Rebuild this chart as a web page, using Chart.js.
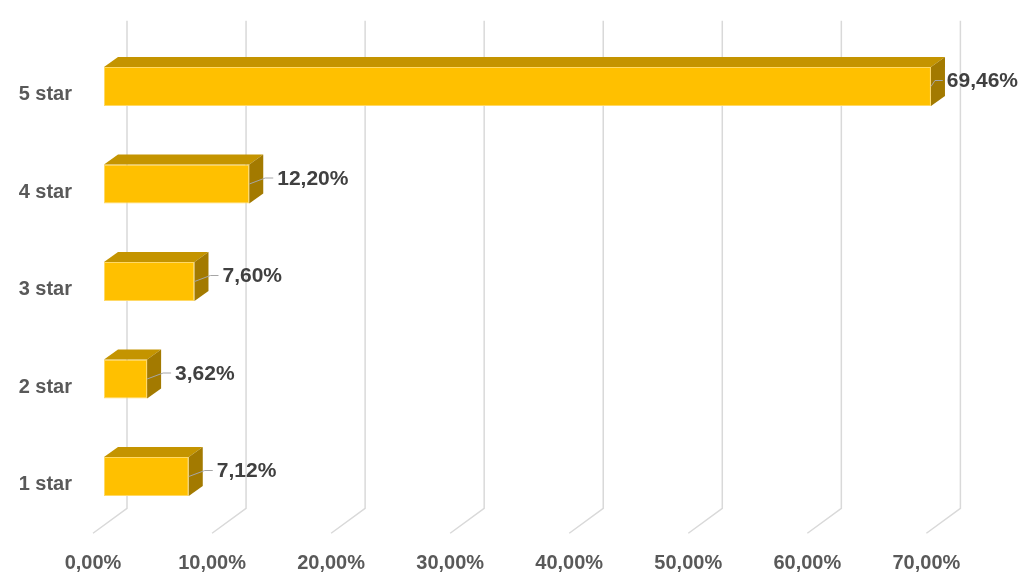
<!DOCTYPE html>
<html>
<head>
<meta charset="utf-8">
<script src="https://cdn.jsdelivr.net/npm/chart.js@4/dist/chart.umd.min.js"></script>
<style>
  html, body { margin: 0; padding: 0; background: #ffffff; }
  #wrap { width: 1024px; height: 588px; }
</style>
</head>
<body>
<div id="wrap"><canvas id="c" width="1024" height="588"></canvas></div>
<script>
// ---- data ----
const categories = ['5 star', '4 star', '3 star', '2 star', '1 star'];
const shares = [69.46, 12.20, 7.60, 3.62, 7.12];
const tickValues = [0, 10, 20, 30, 40, 50, 60, 70];

// ---- style ----
const FRONT = '#FFC000', TOP = '#C49400', SIDE = '#A37A00';
const GRID = '#d9d9d9';
const WALL = { dx: 34, dy: -25 };      // floor front -> back wall
const BAR_FRONT = { dx: 11, dy: -8 };  // floor front -> bar front
const BAR_DEPTH = { dx: 14, dy: -10 }; // bar front -> bar back
const fmt = v => v.toFixed(2).replace('.', ',') + '%';

const grid3d = {
  id: 'grid3d',
  beforeDatasetsDraw(chart) {
    const { ctx, chartArea, scales } = chart;
    const xs = scales.x;
    ctx.save();
    ctx.strokeStyle = GRID;
    ctx.lineWidth = 1.5;
    tickValues.forEach(v => {
      const px = xs.getPixelForValue(v);
      ctx.beginPath();
      ctx.moveTo(px + WALL.dx, chartArea.top + WALL.dy);
      ctx.lineTo(px + WALL.dx, chartArea.bottom + WALL.dy);
      ctx.lineTo(px, chartArea.bottom);
      ctx.stroke();
    });
    ctx.restore();
    ctx.save();
    ctx.translate(BAR_FRONT.dx, BAR_FRONT.dy);
  },
  afterDatasetsDraw(chart) {
    const { ctx } = chart;
    const meta = chart.getDatasetMeta(0);
    meta.data.forEach(el => {
      const p = el.getProps(['x', 'y', 'base', 'height'], true);
      const top = p.y - p.height / 2, bot = p.y + p.height / 2;
      const L = p.base, R = p.x;
      const dx = BAR_DEPTH.dx, dy = BAR_DEPTH.dy;
      // top face
      ctx.fillStyle = TOP;
      ctx.beginPath();
      ctx.moveTo(L, top); ctx.lineTo(L + dx, top + dy);
      ctx.lineTo(R + dx, top + dy); ctx.lineTo(R, top);
      ctx.closePath(); ctx.fill();
      // side face
      ctx.fillStyle = SIDE;
      ctx.beginPath();
      ctx.moveTo(R, top); ctx.lineTo(R + dx, top + dy);
      ctx.lineTo(R + dx, bot + dy); ctx.lineTo(R, bot);
      ctx.closePath(); ctx.fill();
    });
    ctx.restore();
    // data labels with leader lines
    ctx.save();
    ctx.font = 'bold 21px "Liberation Sans", Arial, sans-serif';
    ctx.textBaseline = 'middle';
    ctx.textAlign = 'left';
    meta.data.forEach((el, i) => {
      const p = el.getProps(['x', 'y'], true);
      const fx = p.x + BAR_FRONT.dx, fy = p.y + BAR_FRONT.dy;
      const txt = fmt(shares[i]);
      const w = ctx.measureText(txt).width;
      let lx = fx + 28;
      lx = Math.min(lx, chart.width - 6 - w);
      const ly = fy - 6;
      ctx.strokeStyle = '#a6a6a6';
      ctx.lineWidth = 1;
      ctx.beginPath();
      ctx.moveTo(fx, fy);
      ctx.lineTo(Math.max(fx + 4, lx - 12), ly);
      ctx.lineTo(lx - 4, ly);
      ctx.stroke();
      ctx.fillStyle = '#404040';
      ctx.fillText(txt, lx, ly + 1);
    });
    ctx.restore();
  }
};

new Chart(document.getElementById('c'), {
  type: 'bar',
  data: {
    labels: categories,
    datasets: [{
      data: shares,
      backgroundColor: FRONT,
      borderColor: '#FFD966',
      borderWidth: 1,
      borderSkipped: false,
      barPercentage: 0.4,
      categoryPercentage: 1.0
    }]
  },
  options: {
    indexAxis: 'y',
    responsive: false,
    animation: false,
    devicePixelRatio: 1,
    layout: { padding: { top: 45.75, right: 97.6, left: 0, bottom: 0 } },
    plugins: { legend: { display: false }, tooltip: { enabled: false } },
    scales: {
      x: {
        min: 0, max: 70,
        afterBuildTicks: s => { s.ticks = tickValues.map(v => ({ value: v })); },
        afterFit: s => { s.height = 54.75; },
        grid: { display: false, drawTicks: false },
        border: { display: false },
        ticks: {
          padding: 18,
          color: '#595959',
          font: { family: '"Liberation Sans", Arial, sans-serif', size: 20, weight: 'bold' },
          callback: v => fmt(v)
        }
      },
      y: {
        afterFit: s => { s.width = 93; },
        grid: { display: false, drawTicks: false },
        border: { display: false },
        ticks: {
          padding: 21,
          color: '#595959',
          font: { family: '"Liberation Sans", Arial, sans-serif', size: 20, weight: 'bold' }
        }
      }
    }
  },
  plugins: [grid3d]
});
</script>
</body>
</html>
